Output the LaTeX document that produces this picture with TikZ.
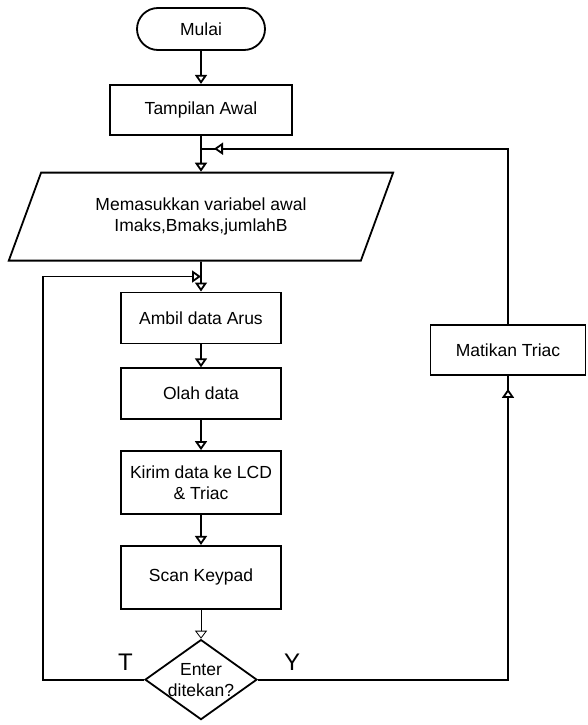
\documentclass[tikz,border=0pt]{standalone}
\usepackage{fontspec}
\setmainfont{Liberation Sans}
\usepackage{tikz}
\usetikzlibrary{
  arrows.meta,
  positioning,
  shapes.geometric,
  calc,
  decorations.markings
}
\tikzset{
  termbox/.style={draw, rounded corners=21pt, line width=1.8pt,
    minimum width=128pt, minimum height=42pt, align=center},
  procbox/.style={draw, line width=1.8pt, inner sep=2pt,
    minimum width=160pt, minimum height=51pt, align=center},
  iobox/.style={draw, trapezium, line width=1.8pt,
    trapezium left angle=63.43, trapezium right angle=116.57,
    trapezium stretches=true,
    minimum width=385pt, minimum height=88pt, align=center},
  decbox/.style={draw, diamond, line width=1.8pt, inner sep=-12pt,
    minimum width=112pt, minimum height=80pt, align=center},
  arr/.style={-{Triangle[length=9pt, width=12pt, fill=white]}, line width=1.8pt},
  thinarr/.style={-{Triangle[length=8pt, width=12pt, fill=white]}, line width=0.8pt},
  midarr/.style={line width=1.8pt, postaction={decorate, decoration={markings,
    mark=at position -13pt with {\arrow[line width=1.8pt]{Triangle[length=9pt, width=12pt, fill=white]}}}}},
  yesno/.style={font=\fontsize{24}{28}\selectfont, inner sep=0pt},
}

\begin{document}
\begin{tikzpicture}[x=1pt, y=1pt, font=\fontsize{17.5}{21}\selectfont]
  \useasboundingbox (0,0) rectangle (587,-725);

  % Mulai
  \node[termbox] (mulai) at (201,-29) {Mulai};
  % Tampilan Awal
  \node[procbox, minimum width=182pt, minimum height=50pt, below=33pt of mulai] (awal) {Tampilan Awal};
  % Input
  \node[iobox, below=36pt of awal] (input) {Memasukkan variabel awal\\Imaks,Bmaks,jumlahB};
  % Loop body
  \node[procbox, below=30pt of input] (ambil) {Ambil data Arus};
  \node[procbox, below=23pt of ambil] (olah) {Olah data};
  \node[procbox, minimum height=63pt, below=30pt of olah] (kirim) {Kirim data ke LCD\\\& Triac};
  \node[procbox, minimum height=63pt, below=30pt of kirim] (scan) {Scan Keypad};
  % Decision
  \node[decbox, below=29pt of scan] (dec) {Enter\\ditekan?};
  % Matikan Triac
  \node[procbox, minimum width=155pt, minimum height=50pt] (matikan) at (508,-350) {Matikan Triac};

  % Joins
  \coordinate (jtop) at ([yshift=-13pt]awal.south);
  \coordinate (jloop) at ($(input.south -| ambil.north)!0.5!(ambil.north)$);

  % Arrows
  \draw[arr] (mulai) -- (awal);
  \draw[arr] (awal) -- (input);
  \draw[arr] (input) -- (ambil);
  \draw[arr] (ambil) -- (olah);
  \draw[arr] (olah) -- (kirim);
  \draw[arr] (kirim) -- (scan);
  \draw[thinarr] (scan) -- (dec);
  \draw[arr] (dec.west) -- ++(-101,0) |- (jloop);
  \draw[midarr] (dec.east) -| (matikan.south);
  \draw[midarr] (matikan.north) |- (jtop);

  % Labels
  \node[yesno, above left=9pt and 11pt of dec.west] (tlab) {T};
  \node[yesno, above right=9pt and 26pt of dec.east] (ylab) {Y};
\end{tikzpicture}
\end{document}
